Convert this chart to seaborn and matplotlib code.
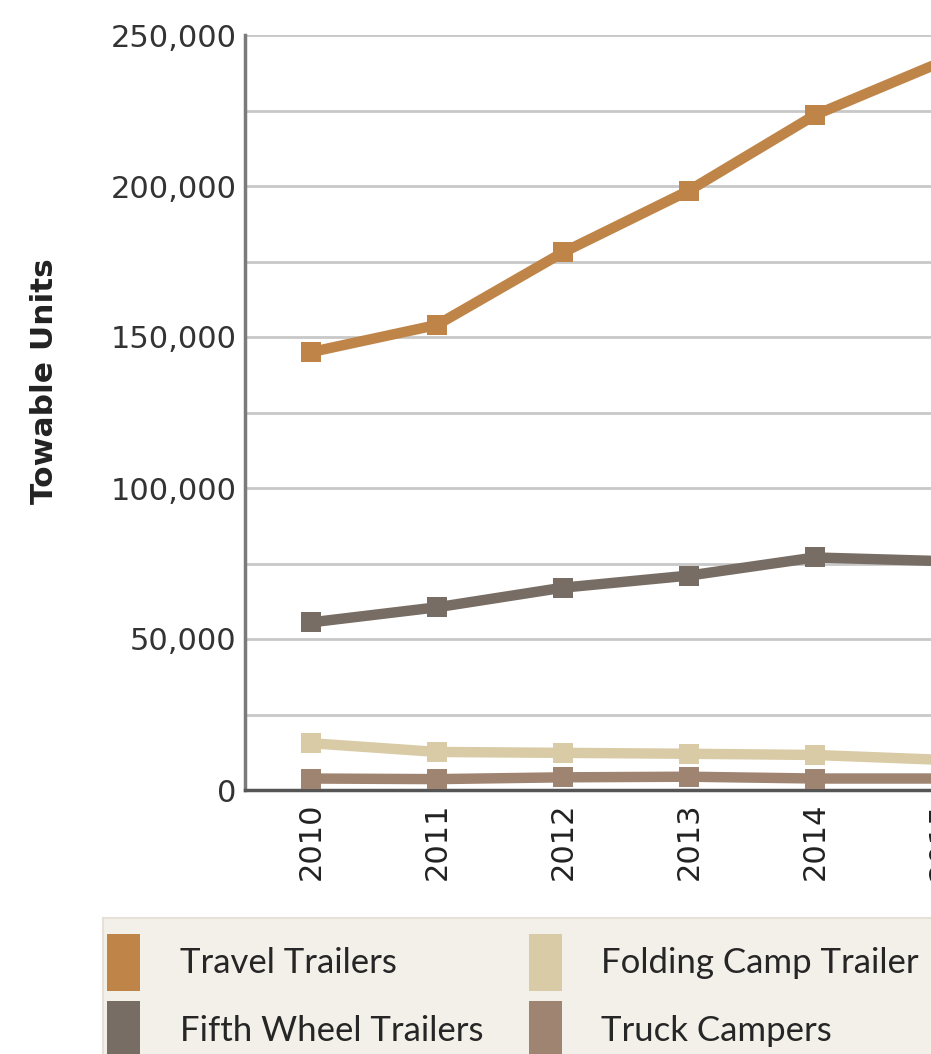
import pandas as pd
import seaborn as sns
import matplotlib.pyplot as plt
from matplotlib.patches import Patch, Rectangle

# data
years = [2010, 2011, 2012, 2013, 2014, 2015]
travel_trailers = [145000, 154000, 178000, 198500, 223500, 241000]
fifth_wheel = [55500, 60500, 67000, 71000, 77000, 75800]
folding_camp = [15500, 12600, 12300, 12000, 11600, 10000]
truck_campers = [3800, 3600, 4200, 4400, 3800, 3800]

series_names = ["Travel Trailers", "Fifth Wheel Trailers",
                "Folding Camp Trailer", "Truck Campers"]
colors = ["#BF8548", "#776D64", "#D9CBA6", "#A08472"]

frames = []
for name, vals in zip(series_names,
                      [travel_trailers, fifth_wheel, folding_camp, truck_campers]):
    frames.append(pd.DataFrame({"Year": years, "Units": vals, "Type": name}))
df = pd.concat(frames, ignore_index=True)

sns.set_theme(style="white")
plt.rcParams['font.family'] = ['DejaVu Sans']

fig = plt.figure(figsize=(9.31, 10.54), dpi=100)
ax = fig.add_axes([245 / 931, 1 - 790 / 1054, 759 / 931, 755 / 1054])

sns.lineplot(data=df, x="Year", y="Units", hue="Type", hue_order=series_names,
             palette=dict(zip(series_names, colors)), style="Type",
             markers={n: "s" for n in series_names}, dashes=False,
             linewidth=7.5, markersize=14, markeredgewidth=0,
             legend=False, ax=ax, zorder=3)

ax.set_xlim(2009.476, 2015.5)
ax.set_ylim(0, 250000)
yt = list(range(0, 250001, 25000))
ax.set_yticks(yt)
ax.set_yticklabels([f"{v:,}" if v % 50000 == 0 else "" for v in yt],
                   fontsize=22, color="#333333")
ax.set_xticks(years)
ax.set_xticklabels([str(y) for y in years], rotation=90, fontsize=22,
                   color="#222222")
ax.tick_params(axis="y", length=0, pad=6)
ax.tick_params(axis="x", length=0, pad=9)
ax.grid(axis="y", color="#C8C8C8", linewidth=2)
ax.set_axisbelow(True)

for side in ["top", "right"]:
    ax.spines[side].set_visible(False)
ax.spines["left"].set_color("#7A7A7A")
ax.spines["left"].set_linewidth(2.5)
ax.spines["bottom"].set_color("#555555")
ax.spines["bottom"].set_linewidth(2.5)

ax.set_xlabel("")
ax.set_ylabel("Towable Units", fontsize=22.5, fontweight="bold", color="#222222")
ax.yaxis.set_label_coords(-0.245, 0.542)

# legend background panel (runs off the right and bottom edges)
fig.patches.append(Rectangle((103 / 931, 1 - 1070 / 1054), 900 / 931, 152 / 1054,
                             transform=fig.transFigure, facecolor="#F3EFE9",
                             edgecolor="#E6E0D8", linewidth=1.5, zorder=0))

handles = [Patch(facecolor=c, edgecolor="none") for c in colors]
fig.legend(handles, series_names,
           loc="upper left", bbox_to_anchor=(107 / 931, 1 - 934 / 1054),
           ncol=2, frameon=False, borderpad=0, borderaxespad=0,
           handlelength=0.95, handleheight=2.15, handletextpad=1.15,
           columnspacing=1.3, labelspacing=0.29,
           prop={"family": "Lato", "size": 25})

fig.savefig("out.png", dpi=100)
